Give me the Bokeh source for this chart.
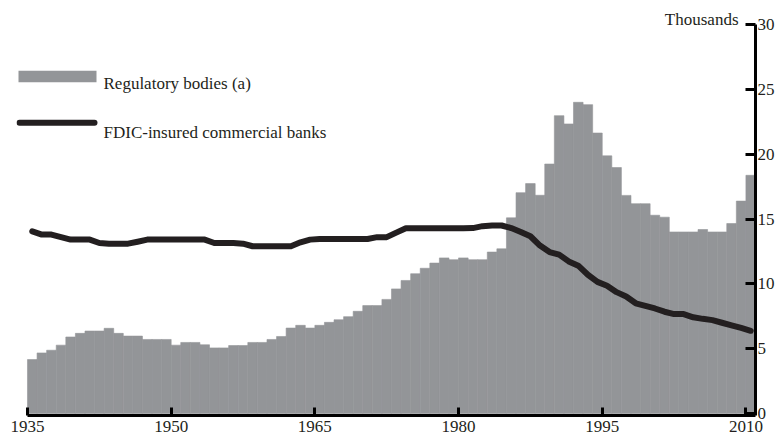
from bokeh.plotting import figure
from bokeh.models import Range1d, FixedTicker, Label
from bokeh.embed import file_html
from bokeh.resources import INLINE

# ---------------- data (thousands) ----------------
years = list(range(1935, 2011))
regulatory = [4.16, 4.67, 4.88, 5.27, 5.90, 6.18, 6.36, 6.36, 6.57, 6.18,   # 1935-1944
              5.97, 5.97, 5.71, 5.71, 5.71, 5.27, 5.48, 5.48, 5.30, 5.06,   # 1945-1954
              5.06, 5.24, 5.24, 5.48, 5.48, 5.71, 5.94, 6.59, 6.80, 6.59,   # 1955-1964
              6.80, 7.03, 7.23, 7.47, 7.88, 8.32, 8.32, 8.80, 9.61, 10.26,  # 1965-1974
              10.78, 11.20, 11.60, 12.00, 11.86, 12.00, 11.86, 11.86, 12.45, 12.70,  # 1975-1984
              15.09, 17.03, 17.73, 16.83, 19.24, 22.97, 22.33, 24.00, 23.82, 21.63,  # 1985-1994
              19.87, 18.97, 16.82, 16.18, 16.18, 15.29, 15.14, 14.00, 14.00, 14.00,  # 1995-2004
              14.19, 14.00, 14.00, 14.65, 16.38, 18.37]                      # 2005-2010
banks = [14.05, 13.80, 13.80, 13.60, 13.41, 13.41, 13.41, 13.15, 13.10, 13.10,  # 1935-1944
         13.10, 13.25, 13.41, 13.41, 13.41, 13.41, 13.41, 13.41, 13.41, 13.15,  # 1945-1954
         13.15, 13.15, 13.10, 12.90, 12.90, 12.90, 12.90, 12.90, 13.20, 13.41,  # 1955-1964
         13.46, 13.46, 13.46, 13.46, 13.46, 13.46, 13.60, 13.60, 13.95, 14.29,  # 1965-1974
         14.29, 14.29, 14.29, 14.29, 14.29, 14.29, 14.30, 14.45, 14.50, 14.50,  # 1975-1984
         14.30, 14.00, 13.67, 12.95, 12.45, 12.25, 11.73, 11.40, 10.70, 10.15,  # 1985-1994
         9.85, 9.36, 9.02, 8.50, 8.30, 8.10, 7.85, 7.67, 7.67, 7.42,            # 1995-2004
         7.30, 7.20, 7.00, 6.80, 6.60, 6.38]                                    # 2005-2010
x_ticks = [1935, 1950, 1965, 1980, 1995, 2010]
y_ticks = [0, 5, 10, 15, 20, 25, 30]
series_names = ["Regulatory bodies (a)", "FDIC-insured commercial banks"]
unit_label = "Thousands"

# ---------------- layout ----------------
W, H = 779, 441
BL, BR, BT, BB = 16, 24, 0, 26
X0, X1 = 1933.852, 2011.0
Y0, Y1 = -0.154, 31.851
GREY = "#939598"
BLACK = "#231f20"
FONT = "Liberation Serif"
FS = "17px"

# canvas pixel -> data helpers (used only to place the hand-drawn legend)
FL, FR = BL, W - BR
FT, FB = BT, H - BB


def dx(px):
    return X0 + (px - FL) / (FR - FL) * (X1 - X0)


def dy(py):
    return Y1 - (py - FT) / (FB - FT) * (Y1 - Y0)


p = figure(width=W, height=H, output_backend="svg", toolbar_location=None,
           x_range=Range1d(X0, X1), y_range=Range1d(Y0, Y1),
           min_border_left=BL, min_border_right=BR, min_border_top=BT,
           min_border_bottom=BB, y_axis_location="right",
           outline_line_color=None, background_fill_color="white")
p.grid.visible = False

centers = [y + 0.5 for y in years]
p.vbar(x=centers, width=1.0, top=regulatory, bottom=0,
       fill_color=GREY, line_color=GREY, line_width=0.6)
p.line(x=centers, y=banks, line_width=6, line_color=BLACK,
       line_join="round", line_cap="round")

# x axis
xa = p.xaxis[0]
xa.ticker = FixedTicker(ticks=x_ticks)
xa.bounds = (x_ticks[0], X1)
xa.major_tick_in = 8
xa.major_tick_out = 0
xa.minor_tick_line_color = None
xa.axis_line_width = 3
xa.major_tick_line_width = 3
xa.axis_line_color = "black"
xa.major_tick_line_color = "black"
xa.major_label_text_font = FONT
xa.major_label_text_font_size = FS
xa.major_label_text_color = BLACK
xa.major_label_standoff = 5

# y axis (right)
ya = p.yaxis[0]
ya.ticker = FixedTicker(ticks=y_ticks)
ya.bounds = (Y0, y_ticks[-1])
ya.major_tick_in = 10
ya.major_tick_out = 0
ya.minor_tick_line_color = None
ya.axis_line_width = 3
ya.major_tick_line_width = 3
ya.axis_line_color = "black"
ya.major_tick_line_color = "black"
ya.major_label_text_font = FONT
ya.major_label_text_font_size = FS
ya.major_label_text_color = BLACK
ya.major_label_standoff = 2

# legend (drawn by hand)
p.quad(left=[dx(18)], right=[dx(96)], top=[dy(70.3)], bottom=[dy(81.7)],
       fill_color=GREY, line_color=None)
p.line(x=[dx(19), dx(94)], y=[dy(122.3), dy(122.3)], line_width=6,
       line_color=BLACK, line_cap="round")
p.add_layout(Label(x=dx(103), y=dy(83.3), text=series_names[0],
                   text_font=FONT, text_font_size=FS, text_color=BLACK,
                   text_baseline="alphabetic", text_align="left"))
p.add_layout(Label(x=dx(103), y=dy(132.3), text=series_names[1],
                   text_font=FONT, text_font_size=FS, text_color=BLACK,
                   text_baseline="alphabetic", text_align="left"))
p.add_layout(Label(x=dx(738), y=dy(19), text=unit_label,
                   text_font=FONT, text_font_size=FS, text_color=BLACK,
                   text_baseline="alphabetic", text_align="right"))

open("out.html", "w").write(file_html(p, INLINE))
